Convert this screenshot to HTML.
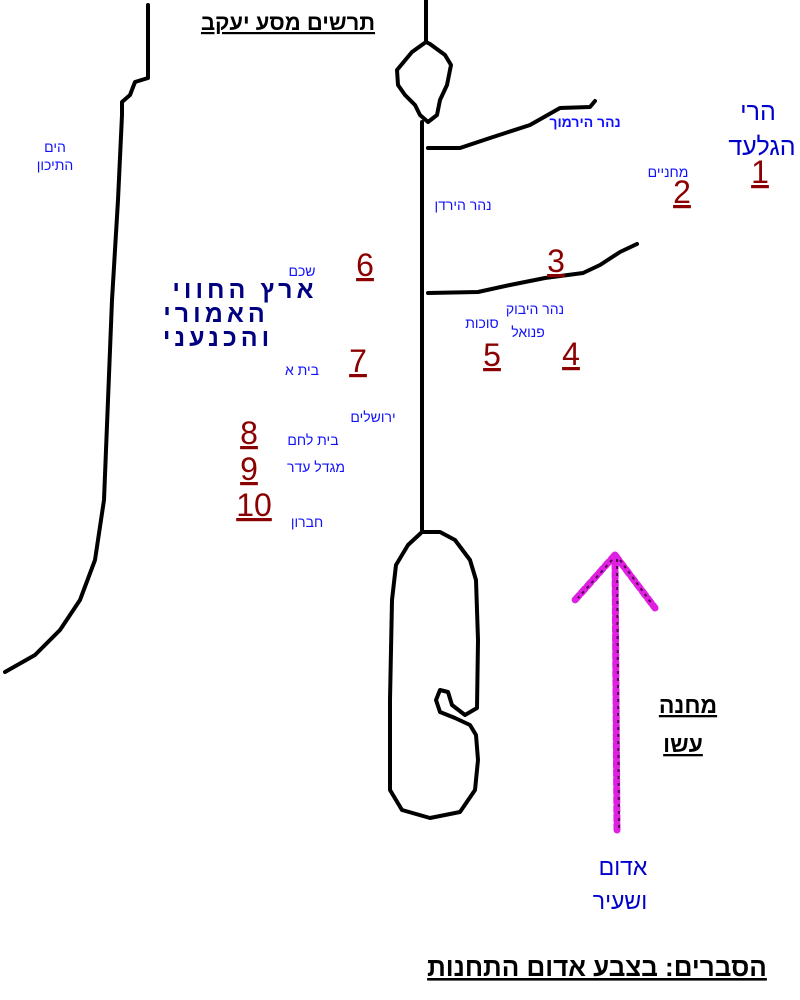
<!DOCTYPE html>
<html><head><meta charset="utf-8"><style>
body{margin:0;background:#fff}
svg{display:block}
text{font-family:"Liberation Sans","Noto Sans CJK SC",sans-serif}
.n{fill:#8b0000;font-size:32px;text-anchor:middle}
.b{fill:#1010ff;font-size:14px;text-anchor:middle}
</style></head><body>
<svg width="800" height="1000" viewBox="0 0 800 1000">
<g fill="none" stroke="#000" stroke-width="4" stroke-linejoin="round" stroke-linecap="round">
<path d="M148,5 L148,78 L135,82 L130,95 L122,102 L122,115 L118,200 L112,300 L108,400 L104,500 L95,560 L80,600 L60,630 L35,655 L5,672"/>
<path d="M426,0 L426,42"/>
<path d="M426,42 L412,52 L397,70 L398,85 L405,95 L415,105 L420,115 L428,122 L437,115 L440,100 L447,85 L451,65 L445,55 L430,44 Z"/>
<path d="M422,122 L422,532"/>
<path d="M422,532 L408,545 L396,565 L392,600 L390,700 L390,790 L402,810 L430,818 L460,812 L475,790 L478,760 L476,735 L470,725 L455,718 L440,712 L436,700 L440,690 L448,692 L452,705 L465,715 L477,708 L478,640 L476,580 L470,560 L455,540 L440,532 Z"/>
<path d="M428,148 L460,148 L490,138 L530,125 L560,108 L590,107 L595,101"/>
<path d="M428,293 L478,292 L510,285 L545,278 L583,273 L600,265 L620,252 L637,244"/>
</g>
<g stroke="#e020e0" stroke-width="7" fill="none" stroke-linecap="round" stroke-dasharray="6 3">
<path d="M617,830 L615,555 M615,555 L575,600 M615,555 L655,608"/>
</g>
<g stroke="#500050" stroke-width="2" fill="none" stroke-dasharray="3 4">
<path d="M619,828 L617,558 M612,560 L578,598 M620,560 L652,604"/>
</g>
<text x="288" y="30" font-size="22" font-weight="bold" text-anchor="middle" text-decoration="underline">תרשים מסע יעקב</text>
<text class="b" x="55" y="152">הים</text>
<text class="b" x="55" y="170">התיכון</text>
<text x="758" y="120" font-size="25" fill="#0000cc" text-anchor="middle">הרי</text>
<text x="762" y="155" font-size="25" fill="#0000cc" text-anchor="middle">הגלעד</text>
<text class="n" x="760" y="183" text-decoration="underline">1</text>
<text class="b" x="668" y="177">מחניים</text>
<text class="n" x="682" y="203" text-decoration="underline">2</text>
<text class="b" x="585" y="127" font-weight="bold">נהר הירמוך</text>
<text class="b" x="463" y="210">נהר הירדן</text>
<text class="n" x="556" y="272" text-decoration="underline">3</text>
<text class="b" x="535" y="314">נהר היבוק</text>
<text class="b" x="482" y="328">סוכות</text>
<text class="b" x="528" y="337">פנואל</text>
<text class="n" x="571" y="365" text-decoration="underline">4</text>
<text class="n" x="492" y="366" text-decoration="underline">5</text>
<text class="n" x="365" y="276" text-decoration="underline">6</text>
<text class="b" x="302" y="276">שכם</text>
<g font-size="25" font-weight="bold" fill="#000080" text-anchor="middle" letter-spacing="4">
<text x="245" y="298">ארץ החווי</text>
<text x="216" y="322">האמורי</text>
<text x="218" y="346">והכנעני</text>
</g>
<text class="n" x="358" y="372" text-decoration="underline">7</text>
<text class="b" x="302" y="375">בית א</text>
<text class="b" x="373" y="422">ירושלים</text>
<text class="n" x="249" y="444" text-decoration="underline">8</text>
<text class="b" x="313" y="445">בית לחם</text>
<text class="n" x="249" y="480" text-decoration="underline">9</text>
<text class="b" x="316" y="472">מגדל עדר</text>
<text class="n" x="254" y="516" text-decoration="underline">10</text>
<text class="b" x="307" y="527">חברון</text>
<text x="688" y="713" font-size="23" font-weight="bold" text-anchor="middle" text-decoration="underline">מחנה</text>
<text x="683" y="752" font-size="23" font-weight="bold" text-anchor="middle" text-decoration="underline">עשו</text>
<text x="623" y="875" font-size="23" fill="#0000cc" text-anchor="middle">אדום</text>
<text x="620" y="909" font-size="23" fill="#0000cc" text-anchor="middle">ושעיר</text>
<text x="597" y="976" font-size="26" font-weight="bold" text-anchor="middle" text-decoration="underline">הסברים: בצבע אדום התחנות</text>
</svg>
</body></html>
